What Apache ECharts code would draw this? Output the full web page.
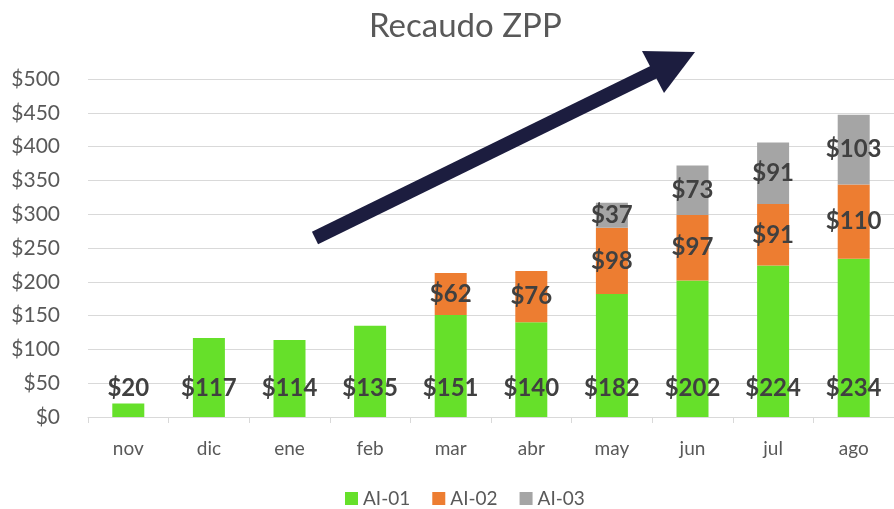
<!DOCTYPE html>
<html>
<head>
<meta charset="utf-8">
<script src="https://cdn.jsdelivr.net/npm/echarts@6/dist/echarts.min.js"></script>
<style>
  html, body { margin: 0; padding: 0; background: #fff; }
  #chart { width: 894px; height: 509px; }
</style>
</head>
<body>
<div id="chart"></div>
<script>
// meses y valores
const months = ['nov', 'dic', 'ene', 'feb', 'mar', 'abr', 'may', 'jun', 'jul', 'ago'];
const ai01 = [20, 117, 114, 135, 151, 140, 182, 202, 224, 234];
const ai02 = [null, null, null, null, 62, 76, 98, 97, 91, 110];
const ai03 = [null, null, null, null, null, null, 37, 73, 91, 103];
const seriesNames = ['AI-01', 'AI-02', 'AI-03'];

const chart = echarts.init(document.getElementById('chart'));
const font = 'Lato, "Open Sans", sans-serif';

function money(p) {
    return p.value == null ? '' : '$' + p.value;
}

const labelStyle = {
    show: true,
    color: '#404040',
    fontWeight: 'bold',
    fontSize: 24,
    fontFamily: font,
    formatter: money
};

const option = {
    backgroundColor: '#fff',
    animation: false,
    title: {
        text: 'Recaudo ZPP',
        left: 364,
        top: 5,
        textStyle: {
            color: '#595959',
            fontSize: 33,
            fontWeight: 'normal',
            fontFamily: font
        }
    },
    legend: {
        data: seriesNames,
        top: 484,
        left: 340,
        itemWidth: 13,
        itemHeight: 13,
        itemGap: 22,
        icon: 'rect',
        textStyle: {
            color: '#595959',
            fontSize: 19,
            fontFamily: font
        }
    },
    grid: {
        left: 88,
        top: 79,
        width: 811,
        height: 338
    },
    xAxis: {
        type: 'category',
        data: months,
        axisLine: { lineStyle: { color: '#d9d9d9', width: 1 } },
        axisTick: { show: true, length: 6, lineStyle: { color: '#d9d9d9' } },
        axisLabel: {
            color: '#595959',
            fontSize: 19,
            fontFamily: font,
            margin: 22
        }
    },
    yAxis: {
        type: 'value',
        min: 0,
        max: 500,
        interval: 50,
        axisLine: { show: false },
        axisTick: { show: false },
        axisLabel: {
            color: '#595959',
            fontSize: 21,
            fontFamily: font,
            margin: 28,
            formatter: v => '$' + v
        },
        splitLine: { lineStyle: { color: '#d9d9d9', width: 1 } }
    },
    series: [
        {
            name: seriesNames[0],
            type: 'bar',
            stack: 'total',
            barWidth: 32,
            data: ai01,
            itemStyle: { color: '#66e02a' },
            label: Object.assign({}, labelStyle, { position: 'insideBottom', distance: 17 })
        },
        {
            name: seriesNames[1],
            type: 'bar',
            stack: 'total',
            barWidth: 32,
            data: ai02,
            itemStyle: { color: '#ed7d31' },
            label: Object.assign({}, labelStyle, { position: 'inside' })
        },
        {
            name: seriesNames[2],
            type: 'bar',
            stack: 'total',
            barWidth: 32,
            data: ai03,
            itemStyle: { color: '#a5a5a5' },
            label: Object.assign({}, labelStyle, { position: 'inside' })
        }
    ],
    // flecha decorativa de tendencia
    graphic: [
        {
            type: 'line',
            shape: { x1: 315, y1: 238, x2: 656, y2: 71 },
            style: { stroke: '#1c1d3f', lineWidth: 14 },
            z: 10
        },
        {
            type: 'polygon',
            shape: { points: [[642, 51], [695, 52], [664, 93]] },
            style: { fill: '#1c1d3f' },
            z: 10
        }
    ]
};

chart.setOption(option);
</script>
</body>
</html>
